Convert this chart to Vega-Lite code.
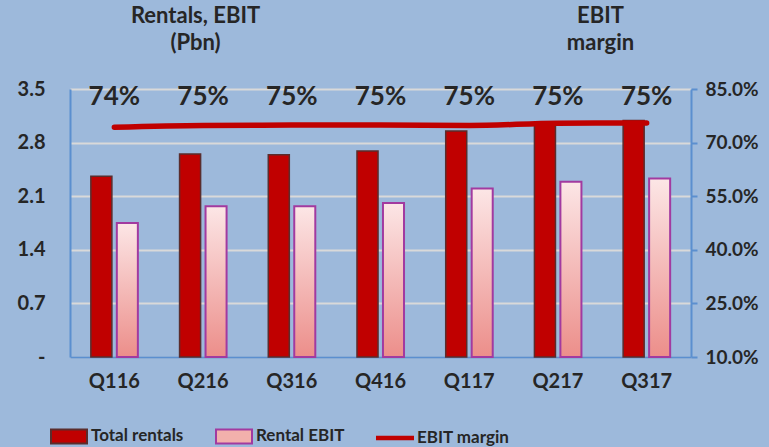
{
  "$schema": "https://vega.github.io/schema/vega-lite/v6.json",
  "width": 621,
  "height": 268,
  "autosize": {"type": "none"},
  "padding": {"left": 70, "top": 89, "right": 78, "bottom": 90},
  "background": "#9DB9DB",
  "config": {
    "view": {"stroke": null},
    "font": "Lato",
    "axis": {"labelFont": "Lato", "titleFont": "Lato", "labelColor": "#262626", "titleColor": "#262626", "labelFontWeight": "bold", "titleFontWeight": "bold"},
    "legend": {"labelFont": "Lato"}
  },
  "datasets": {
    "bars": [
      {"quarter": "Q116", "series": "Total rentals", "value": 2.36},
      {"quarter": "Q116", "series": "Rental EBIT", "value": 1.75},
      {"quarter": "Q216", "series": "Total rentals", "value": 2.65},
      {"quarter": "Q216", "series": "Rental EBIT", "value": 1.97},
      {"quarter": "Q316", "series": "Total rentals", "value": 2.64},
      {"quarter": "Q316", "series": "Rental EBIT", "value": 1.97},
      {"quarter": "Q416", "series": "Total rentals", "value": 2.69},
      {"quarter": "Q416", "series": "Rental EBIT", "value": 2.01},
      {"quarter": "Q117", "series": "Total rentals", "value": 2.95},
      {"quarter": "Q117", "series": "Rental EBIT", "value": 2.2},
      {"quarter": "Q217", "series": "Total rentals", "value": 3.04},
      {"quarter": "Q217", "series": "Rental EBIT", "value": 2.29},
      {"quarter": "Q317", "series": "Total rentals", "value": 3.09},
      {"quarter": "Q317", "series": "Rental EBIT", "value": 2.33}
    ],
    "margin": [
      {"quarter": "Q116", "margin": 0.743, "label": "74%"},
      {"quarter": "Q216", "margin": 0.748, "label": "75%"},
      {"quarter": "Q316", "margin": 0.749, "label": "75%"},
      {"quarter": "Q416", "margin": 0.749, "label": "75%"},
      {"quarter": "Q117", "margin": 0.748, "label": "75%"},
      {"quarter": "Q217", "margin": 0.754, "label": "75%"},
      {"quarter": "Q317", "margin": 0.755, "label": "75%"}
    ],
    "legend": [
      {"series": "Total rentals"},
      {"series": "Rental EBIT"},
      {"series": "EBIT margin"}
    ]
  },
  "layer": [
    {
      "layer": [
        {
          "data": {"name": "bars"},
          "transform": [{"filter": "datum.series === 'Total rentals'"}],
          "mark": {"type": "bar", "fill": "#C00000", "stroke": "#5A2D2D", "strokeWidth": 1.5},
          "encoding": {
            "x": {"field": "quarter", "type": "nominal", "sort": null,
              "scale": {"paddingInner": 0.47, "paddingOuter": 0.235},
              "axis": {"title": null, "labelAngle": 0, "labelFontSize": 20, "labelPadding": 14, "ticks": false, "domainColor": "#5B8FCF", "domainWidth": 2, "grid": false}},
            "xOffset": {"field": "series", "type": "nominal", "scale": {"domain": ["Total rentals", "Rental EBIT"], "paddingInner": 0.19}},
            "y": {"field": "value", "type": "quantitative",
              "scale": {"domain": [0, 3.5], "nice": false, "zero": true},
              "axis": {"orient": "left", "values": [0, 0.7, 1.4, 2.1, 2.8, 3.5],
                "labelExpr": "datum.value == 0 ? '-' : format(datum.value, '.1f')",
                "labelFontSize": 20, "labelPadding": 25, "ticks": false,
                "domainColor": "#5B8FCF", "domainWidth": 2,
                "grid": true, "gridColor": "#D9D9D9", "gridWidth": 2,
                "title": ["Rentals, EBIT", "(Pbn)"], "titleAngle": 0, "titleFontSize": 22,
                "titleX": 125, "titleY": -84, "titleAlign": "center", "titleBaseline": "top", "titleLineHeight": 27}}
          }
        },
        {
          "data": {"name": "bars"},
          "transform": [{"filter": "datum.series === 'Rental EBIT'"}],
          "mark": {"type": "bar", "stroke": "#A23AA0", "strokeWidth": 2,
            "fill": {"gradient": "linear", "x1": 0, "y1": 0, "x2": 0, "y2": 1,
              "stops": [{"offset": 0, "color": "#FCE6E6"}, {"offset": 1, "color": "#EC8E8A"}]}},
          "encoding": {
            "x": {"field": "quarter", "type": "nominal", "sort": null},
            "xOffset": {"field": "series", "type": "nominal"},
            "y": {"field": "value", "type": "quantitative"}
          }
        },
        {
          "data": {"name": "margin"},
          "mark": {"type": "text", "fontSize": 26, "fontWeight": "bold", "color": "#262626", "baseline": "middle", "dy": 8},
          "encoding": {
            "x": {"field": "quarter", "type": "nominal", "sort": null},
            "y": {"datum": 3.5, "type": "quantitative"},
            "text": {"field": "label"}
          }
        }
      ]
    },
    {
      "data": {"name": "margin"},
      "mark": {"type": "line", "color": "#C00000", "strokeWidth": 5.5, "strokeCap": "round", "interpolate": "monotone"},
      "encoding": {
        "x": {"field": "quarter", "type": "nominal", "sort": null},
        "y": {"field": "margin", "type": "quantitative",
          "scale": {"domain": [0.1, 0.85], "nice": false, "zero": false},
          "axis": {"orient": "right", "values": [0.1, 0.25, 0.4, 0.55, 0.7, 0.85], "format": ".1%",
            "labelFontSize": 19, "labelPadding": 8, "ticks": true, "tickSize": 6, "tickColor": "#5B8FCF", "tickWidth": 2,
            "domainColor": "#5B8FCF", "domainWidth": 2, "grid": false,
            "title": ["EBIT", "margin"], "titleAngle": 0, "titleFontSize": 22,
            "titleX": -91, "titleY": -84, "titleAlign": "center", "titleBaseline": "top", "titleLineHeight": 27}}
      }
    },
    {
      "data": {"name": "legend"},
      "mark": {"type": "point", "filled": true, "size": 0, "opacity": 1},
      "encoding": {
        "color": {"field": "series", "type": "nominal",
          "scale": {"domain": ["Total rentals", "Rental EBIT", "EBIT margin"], "range": ["#C00000", "#F2B0AC", "#C00000"]},
          "legend": {"orient": "none", "legendX": -20, "legendY": 328, "direction": "horizontal", "columns": 3,
            "title": null, "labelFontSize": 17, "labelFontWeight": "bold", "labelColor": "#262626",
            "symbolSize": 1296, "symbolOpacity": 1, "symbolFillOpacity": 1, "symbolStrokeWidth": 2, "labelOffset": 3, "columnPadding": 28, "padding": 0}},
        "stroke": {"field": "series", "type": "nominal",
          "scale": {"domain": ["Total rentals", "Rental EBIT", "EBIT margin"], "range": ["#5A2D2D", "#A23AA0", "#C00000"]}},
        "shape": {"field": "series", "type": "nominal",
          "scale": {"domain": ["Total rentals", "Rental EBIT", "EBIT margin"],
            "range": ["M-1,-0.39H1V0.39H-1Z", "M-1,-0.39H1V0.39H-1Z", "M-1,-0.07H1V0.07H-1Z"]}}
      }
    }
  ],
  "resolve": {"scale": {"y": "independent"}}
}
